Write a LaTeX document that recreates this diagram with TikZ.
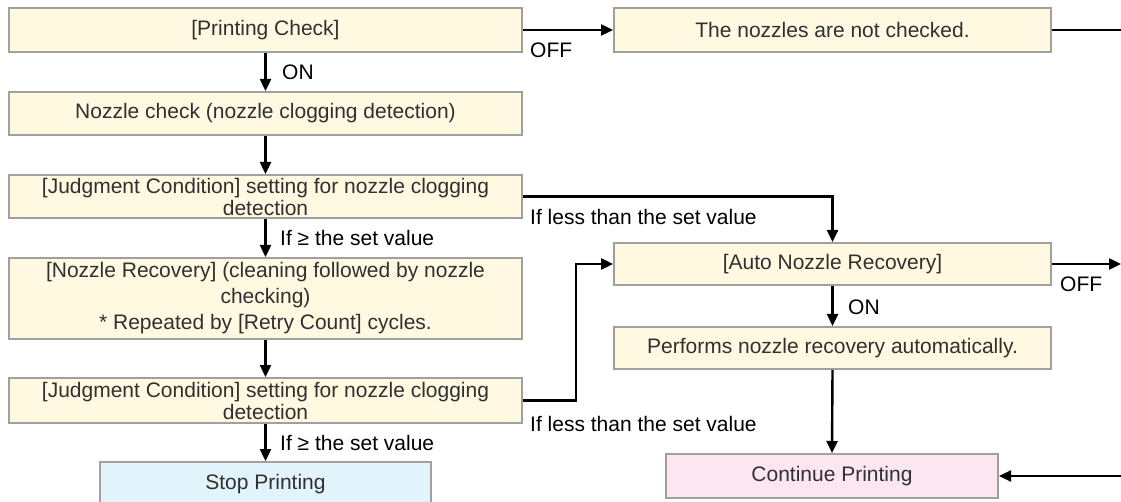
\documentclass[tikz,border=0pt]{standalone}
\usepackage{fontspec}
\setmainfont{Liberation Sans}
\usetikzlibrary{arrows.meta}
\definecolor{boxfill}{HTML}{FFF9E1}
\definecolor{stopfill}{HTML}{E1F3FB}
\definecolor{contfill}{HTML}{FCE7F1}
\definecolor{boxline}{HTML}{A0A0A0}
\definecolor{txt}{HTML}{303030}
\begin{document}
\begin{tikzpicture}[x=1pt,y=-1pt,
  flowbox/.style={draw=boxline, line width=2pt, fill=boxfill, inner sep=0pt, align=center, text=txt,
    font=\fontsize{21}{23}\selectfont},
  conn/.style={line width=2.4pt, -{Triangle[length=12pt,width=11pt]}},
  plainline/.style={line width=2.4pt},
  lbl/.style={anchor=west, inner sep=0pt, font=\fontsize{21}{23}\selectfont, text=black}]
\useasboundingbox (0,0) rectangle (1121,502);
\clip (0,0) rectangle (1121,502);
\fill[white] (0,0) rectangle (1121,502);
% left column
\node[flowbox, minimum width=513pt, minimum height=44pt] (pc) at (265.5,30) {[Printing Check]};
\node[flowbox, minimum width=513pt, minimum height=43pt] (nz) at (265.5,113.5) {Nozzle check (nozzle clogging detection)};
\node[flowbox, minimum width=513pt, minimum height=43pt, font=\fontsize{21}{22}\selectfont] (j1) at (265.5,196.5) {[Judgment Condition] setting for nozzle clogging\\detection};
\node[flowbox, minimum width=513pt, minimum height=81pt, font=\fontsize{21}{26}\selectfont] (nr) at (265.5,298.5) {[Nozzle Recovery] (cleaning followed by nozzle\\checking)\\* Repeated by [Retry Count] cycles.};
\node[flowbox, minimum width=513pt, minimum height=45pt, font=\fontsize{21}{22}\selectfont] (j2) at (265.5,400.5) {[Judgment Condition] setting for nozzle clogging\\detection};
\node[flowbox, fill=stopfill, minimum width=331pt, minimum height=44pt] (sp) at (265.5,484) {Stop Printing};
% right column
\node[flowbox, minimum width=437pt, minimum height=44pt] (nc) at (832.5,30) {The nozzles are not checked.};
\node[flowbox, minimum width=437pt, minimum height=42pt] (an) at (832.5,264) {[Auto Nozzle Recovery]};
\node[flowbox, minimum width=437pt, minimum height=42pt] (pf) at (832.5,348) {Performs nozzle recovery automatically.};
\node[flowbox, fill=contfill, minimum width=332pt, minimum height=44pt] (cp) at (832,476) {Continue Printing};
% free ends
\coordinate (e1) at (1121,30);
\coordinate (e2) at (1121,264);
\coordinate (e3) at (1121,476);
\coordinate (k) at (576,400.5);
% connectors
\draw[conn] (pc.south) -- (nz.north);
\draw[conn] (nz.south) -- (j1.north);
\draw[conn] (j1.south) -- (nr.north);
\draw[conn] (nr.south) -- (j2.north);
\draw[conn] (j2.south) -- (sp.north);
\draw[conn] (pc.east) -- (nc.west);
\draw[plainline] (nc.east) -- (e1);
\draw[conn] (j1.east) -| (an.north);
\draw[conn] (j2.east) -- (k) |- (an.west);
\draw[conn] (an.east) -- (e2);
\draw[conn] (an.south) -- (pf.north);
\draw[conn] (pf.south) -- (cp.north);
\draw[conn] (e3) -- (cp.east);
% labels
\node[lbl] (l1) at (530,50) {OFF};
\node[lbl] (l2) at (282,72) {ON};
\node[lbl] (l3) at (280,238) {If ≥ the set value};
\node[lbl] (l4) at (530,217) {If less than the set value};
\node[lbl] (l5) at (280,443) {If ≥ the set value};
\node[lbl] (l6) at (530,424) {If less than the set value};
\node[lbl] (l7) at (848,307) {ON};
\node[lbl] (l8) at (1060,284) {OFF};
\end{tikzpicture}
\end{document}
